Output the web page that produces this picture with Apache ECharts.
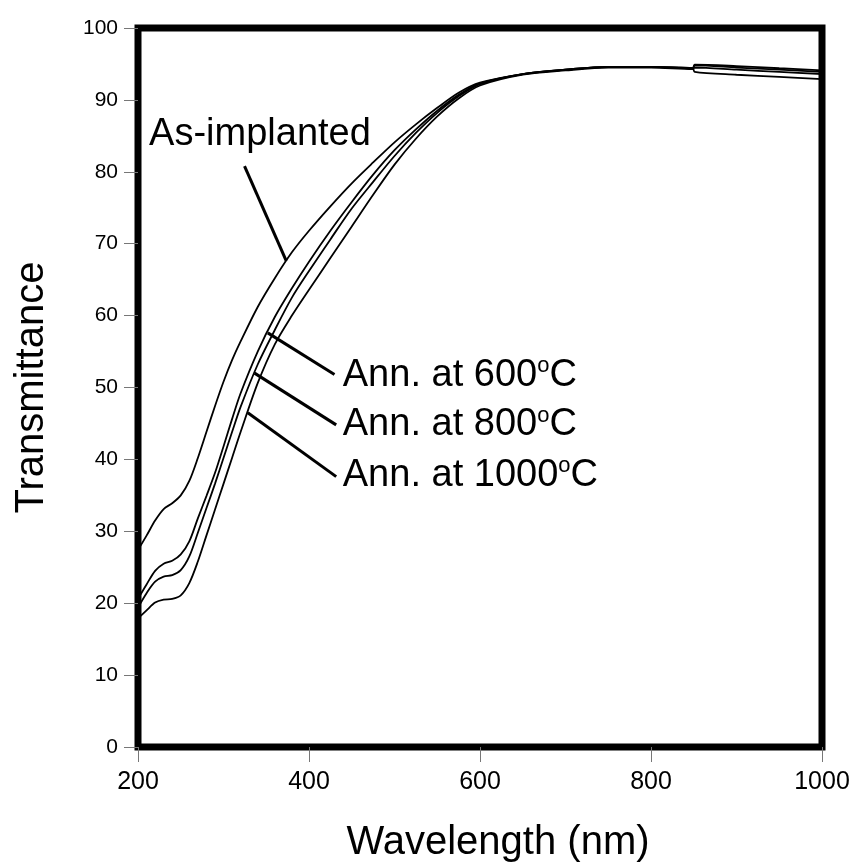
<!DOCTYPE html>
<html>
<head>
<meta charset="utf-8">
<title>Transmittance spectra</title>
<script src="https://cdn.jsdelivr.net/npm/echarts@6/dist/echarts.min.js"></script>
<style>
  html, body { margin: 0; padding: 0; background: #fff; }
  #chart { width: 855px; height: 868px; }
</style>
</head>
<body>
<div id="chart"></div>
<script>
// Wavelength grid (nm) shared by all spectra
var wavelength = [200, 210, 220, 230, 240, 250, 260, 270, 280, 290, 300, 310, 320,
  340, 360, 380, 400, 425, 450, 475, 500, 525, 550, 575, 600,
  650, 700, 750, 800, 849, 851, 900, 950, 1000];

// Transmittance (%) of each sample
var asImplanted = [27.4, 29.4, 31.5, 33.1, 33.9, 35.0, 37.0, 40.2, 43.8, 47.4, 50.8, 53.8, 56.4,
  61.2, 65.2, 68.8, 71.8, 75.2, 78.4, 81.3, 84.1, 86.6, 88.9, 91.0, 92.4,
  93.6, 94.2, 94.6, 94.6, 94.4, 93.9, 93.5, 93.2, 92.9];
var ann600 = [20.6, 22.6, 24.5, 25.5, 25.9, 26.8, 28.6, 31.8, 34.9, 38.1, 41.8, 45.6, 49.2,
  55.0, 59.8, 63.8, 67.5, 71.8, 75.8, 79.6, 83.0, 85.9, 88.5, 90.7, 92.3,
  93.6, 94.2, 94.6, 94.6, 94.4, 94.9, 94.7, 94.4, 94.1];
var ann800 = [19.4, 21.4, 23.0, 23.7, 23.9, 24.6, 26.5, 29.8, 33.2, 36.6, 40.2, 43.8, 47.3,
  53.2, 58.0, 62.5, 66.2, 70.6, 74.9, 78.6, 82.2, 85.4, 88.2, 90.5, 92.2,
  93.6, 94.2, 94.6, 94.6, 94.4, 94.8, 94.5, 94.2, 93.9];
var ann1000 = [17.9, 19.0, 20.1, 20.5, 20.6, 21.1, 22.8, 25.8, 29.4, 33.0, 36.6, 40.2, 43.8,
  50.6, 56.0, 60.0, 63.6, 68.0, 72.4, 76.8, 81.0, 84.6, 87.7, 90.2, 92.0,
  93.5, 94.1, 94.5, 94.5, 94.3, 94.5, 94.2, 93.9, 93.6];

// Axis ticks
var xTicks = [200, 400, 600, 800, 1000];
var yTicks = [0, 10, 20, 30, 40, 50, 60, 70, 80, 90, 100];

// Curve labels: text, anchor of the text [nm, %], leader line from curve to text
var labelTexts = ['As-implanted', 'Ann. at 600{sup|o}C', 'Ann. at 800{sup|o}C', 'Ann. at 1000{sup|o}C'];
var labelAnchors = [[213.0, 85.2], [439.5, 51.7], [439.5, 44.8], [439.5, 37.8]];
var leaderFrom = [[373.4, 67.6], [351.8, 57.6], [336.3, 52.0], [328.4, 46.5]];
var leaderTo = [[324.6, 80.8], [429.8, 51.8], [431.8, 44.8], [431.8, 37.6]];

var FONT = '"Liberation Sans", Arial, sans-serif';

function pairs(values) {
  return wavelength.map(function (w, i) { return [w, values[i]]; });
}

function spectrum(name, values) {
  return {
    name: name,
    type: 'line',
    data: pairs(values),
    showSymbol: false,
    smooth: 0.3,
    lineStyle: { color: '#000', width: 1.8 },
    z: 3
  };
}

var series = [
  spectrum('As-implanted', asImplanted),
  spectrum('600', ann600),
  spectrum('800', ann800),
  spectrum('1000', ann1000)
];

// Annotations: leader lines and curve names
series.push({
  name: 'annotations',
  type: 'line',
  data: [],
  silent: true,
  markLine: {
    silent: true,
    symbol: ['none', 'none'],
    animation: false,
    label: { show: false },
    lineStyle: { color: '#000', width: 3, type: 'solid' },
    data: leaderFrom.map(function (p, i) {
      return [{ coord: p }, { coord: leaderTo[i] }];
    })
  },
  markPoint: {
    silent: true,
    symbol: 'circle',
    symbolSize: 0,
    animation: false,
    label: {
      show: true,
      position: 'right',
      distance: 0,
      color: '#000',
      fontFamily: FONT,
      fontSize: 38,
      lineHeight: 40,
      rich: {
        sup: { fontFamily: FONT, fontSize: 22, color: '#000', verticalAlign: 'top', lineHeight: 40 }
      }
    },
    data: labelAnchors.map(function (p, i) {
      return { coord: p, label: { formatter: labelTexts[i] } };
    })
  }
});

var chart = echarts.init(document.getElementById('chart'), null, { renderer: 'canvas' });
chart.setOption({
  animation: false,
  backgroundColor: '#fff',
  grid: {
    left: 138, right: 33, top: 28, bottom: 121,
    show: true,
    borderColor: '#000',
    borderWidth: 7,
    backgroundColor: 'transparent'
  },
  xAxis: {
    type: 'value',
    min: xTicks[0],
    max: xTicks[xTicks.length - 1],
    interval: xTicks[1] - xTicks[0],
    name: 'Wavelength (nm)',
    nameLocation: 'middle',
    nameGap: 76,
    nameTextStyle: { color: '#000', fontFamily: FONT, fontSize: 40, padding: [0, 0, 0, 36] },
    axisLine: { show: false },
    axisTick: { show: true, inside: false, length: 15, lineStyle: { color: '#777', width: 1 } },
    axisLabel: { color: '#000', fontFamily: FONT, fontSize: 25, margin: 23, formatter: function (v) { return String(v); } },
    splitLine: { show: false }
  },
  yAxis: {
    type: 'value',
    min: yTicks[0],
    max: yTicks[yTicks.length - 1],
    interval: yTicks[1] - yTicks[0],
    name: 'Transmittance',
    nameLocation: 'middle',
    nameGap: 86,
    nameTextStyle: { color: '#000', fontFamily: FONT, fontSize: 40 },
    axisLine: { show: false },
    axisTick: { show: true, inside: false, length: 14, lineStyle: { color: '#777', width: 1 } },
    axisLabel: { color: '#000', fontFamily: FONT, fontSize: 21, margin: 20 },
    splitLine: { show: false }
  },
  series: series
});
</script>
</body>
</html>
